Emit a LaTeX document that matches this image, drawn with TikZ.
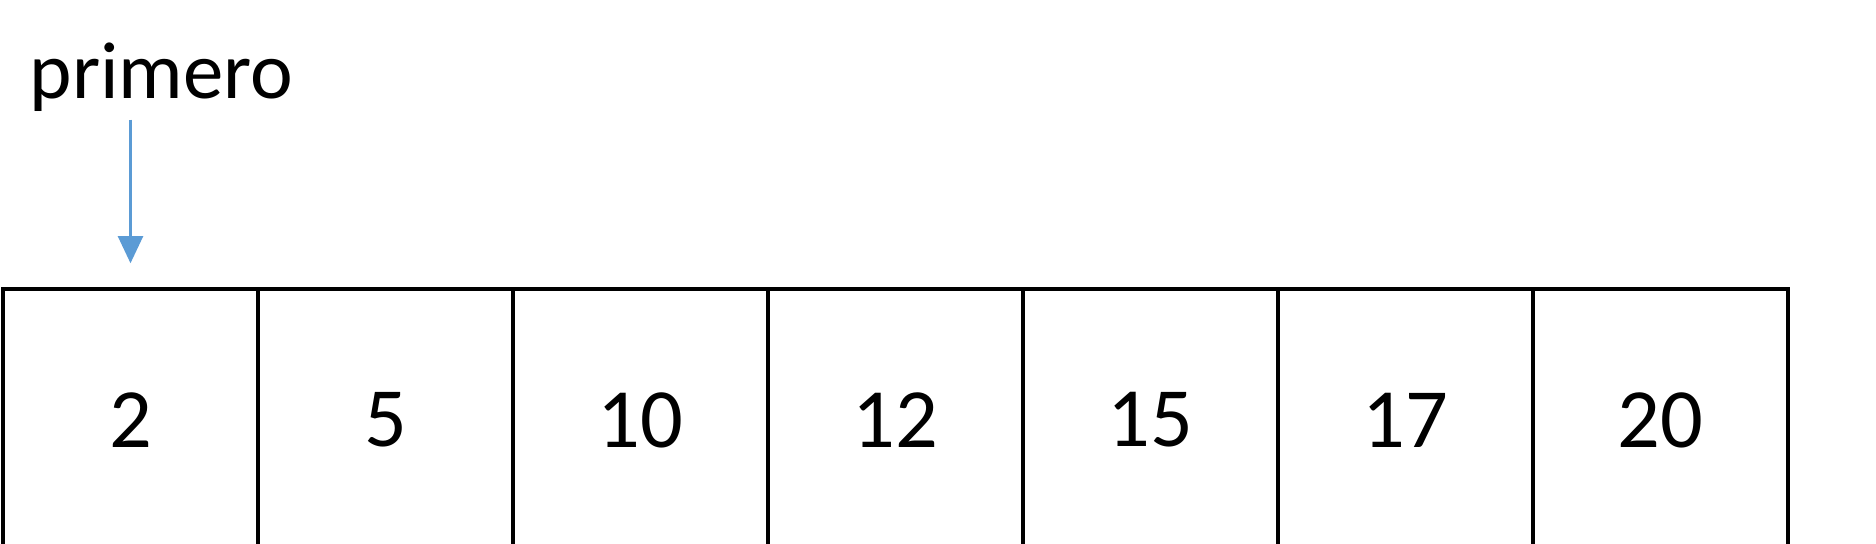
\documentclass[tikz,border=0pt]{standalone}
\usepackage{fontspec}
\setmainfont{Carlito}
\usepackage{tikz}
\usetikzlibrary{positioning}
\usetikzlibrary{shapes,arrows,arrows.meta}
\definecolor{azul}{HTML}{5B9BD5}
\tikzstyle{celda} = [rectangle, draw, line width=1pt, minimum width=2.55cm,
minimum height=2.62cm, text centered, font=\fontsize{24}{28}\selectfont]
\tikzstyle{etiqueta} = [inner sep=0pt, font=\fontsize{23}{27}\selectfont]
\tikzstyle{flecha} = [draw, azul, line width=0.6pt, -{Triangle[length=2.7mm,width=2.5mm]}]

\begin{document}
\begin{tikzpicture}[node distance = 2.55cm, auto]
   \useasboundingbox (0,0) rectangle (18.76,5.44);
    % nodes
   \node [celda] (c1) at (1.305,1.24) {2};
   \node [celda, right of = c1] (c2) {5};
   \node [celda, right of = c2] (c3) {10};
   \node [celda, right of = c3] (c4) {12};
   \node [celda, right of = c4] (c5) {15};
   \node [celda, right of = c5] (c6) {17};
   \node [celda, right of = c6] (c7) {20};
   \node [etiqueta, anchor=base west] (primero) at (0.29,4.45) {primero};

    % edges
          \path [flecha, shorten <=0.07cm, shorten >=0.24cm] (c1.north |- primero.south) -- (c1.north);

  \end{tikzpicture}
\end{document}
